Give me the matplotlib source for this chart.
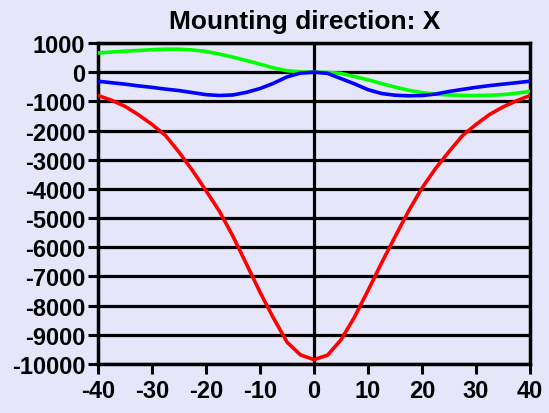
import matplotlib
matplotlib.use("Agg")
import matplotlib.pyplot as plt

# angle (deg)
angles = [-40, -37.5, -35, -32.5, -30, -27.5, -25, -22.5, -20, -17.5, -15, -12.5, -10,
          -7.5, -5, -2.5, 0, 2.5, 5, 7.5, 10, 12.5, 15, 17.5, 20, 22.5, 25, 27.5, 30,
          32.5, 35, 37.5, 40]

red_vals = [-800, -960, -1170, -1460, -1790, -2170, -2740, -3370, -4060, -4770, -5630,
            -6580, -7540, -8430, -9250, -9690, -9850, -9700, -9170, -8390, -7480, -6540,
            -5640, -4760, -3970, -3300, -2720, -2170, -1790, -1450, -1190, -980, -800]

blue_vals = [-310, -360, -410, -470, -520, -580, -630, -700, -770, -800, -780, -690, -560,
             -380, -160, -30, 0, -40, -220, -400, -600, -730, -790, -810, -800, -750,
             -660, -590, -520, -460, -410, -360, -310]

green_vals = [660, 690, 720, 745, 770, 790, 790, 760, 710, 620, 515, 400, 275, 145, 50, 12,
              0, -8, -40, -150, -260, -390, -510, -620, -700, -755, -780, -795, -800, -790,
              -770, -720, -660]

xticks = [-40, -30, -20, -10, 0, 10, 20, 30, 40]
yticks = list(range(-10000, 1001, 1000))

bg = '#E6E6FA'
plt.rcParams['font.family'] = ['Liberation Sans', 'DejaVu Sans']
plt.rcParams['font.weight'] = 'bold'
plt.rcParams['axes.unicode_minus'] = False

fig = plt.figure(figsize=(5.49, 4.14), dpi=100, facecolor=bg)
ax = fig.add_axes([0.1785, 0.1184, 0.787, 0.7753])
ax.set_facecolor(bg)

# grid lines and zero line
for y in yticks:
    ax.axhline(y, color='black', linewidth=2.3, zorder=1)
ax.axvline(0, color='black', linewidth=2.3, zorder=1)

ax.plot(angles, green_vals, color='#00FF00', linewidth=2.6, zorder=3)
ax.plot(angles, blue_vals, color='#0000FF', linewidth=2.6, zorder=3)
ax.plot(angles, red_vals, color='#FF0000', linewidth=2.6, zorder=3)

ax.set_xlim(-40, 40)
ax.set_ylim(-10000, 1000)
ax.set_xticks(xticks)
ax.set_yticks(yticks)
ax.tick_params(direction='out', length=7, width=2.2, labelsize=17, pad=2, colors='black')
ax.tick_params(axis='x', pad=4)
for lab in ax.get_xticklabels() + ax.get_yticklabels():
    lab.set_fontweight('bold')
for s in ax.spines.values():
    s.set_linewidth(2.5)
    s.set_color('black')

ax.set_title("Mounting direction: X", fontsize=19, fontweight='bold', pad=11, x=0.478)

fig.savefig('out.png', dpi=100, facecolor=bg)
